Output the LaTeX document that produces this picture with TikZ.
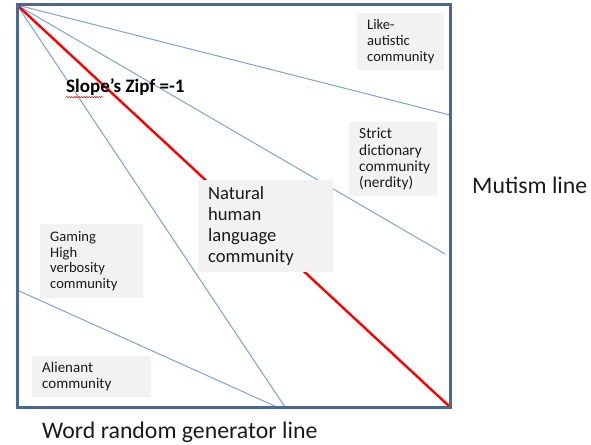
\documentclass[tikz,border=0pt]{standalone}
\usepackage{fontspec}
\setmainfont{Carlito}
\usetikzlibrary{decorations.pathmorphing}
\definecolor{framec}{HTML}{4A6890}
\definecolor{linec}{HTML}{7FA3CF}
\definecolor{boxc}{HTML}{F2F2F2}
\definecolor{txtc}{HTML}{1A1A1A}
\tikzset{
  frameline/.style={draw=framec, line width=3pt},
  thinline/.style={draw=linec, line width=1pt},
  zipfline/.style={draw=red, line width=2.4pt},
  smallbox/.style={fill=boxc, inner xsep=10pt, inner ysep=0pt, align=left, anchor=north west, text=txtc,
     font=\fontsize{14.6}{15.8}\selectfont},
  bigbox/.style={fill=boxc, inner xsep=10pt, inner ysep=0pt, align=left, anchor=north west, text=txtc,
     font=\fontsize{18.6}{21}\selectfont},
  biglabel/.style={text=txtc, font=\fontsize{23.8}{27}\selectfont, inner sep=0pt},
}
\begin{document}
\begin{tikzpicture}[x=1pt,y=-1pt]
\useasboundingbox (0,0) rectangle (591,444);
% corners and end points
\coordinate (tl) at (17,5);
\coordinate (tr) at (450,5);
\coordinate (br) at (450,407);
\coordinate (bl) at (17,407);
\coordinate (eUpper) at (450,115);
\coordinate (eMid) at (445,254);
\coordinate (eSteep) at (285,407);
\coordinate (sLeft) at (17,290);
\coordinate (eLeft) at (277,407);
% lines
\draw[thinline] (tl) -- (eUpper);
\draw[thinline] (tl) -- (eMid);
\draw[thinline] (tl) -- (eSteep);
\draw[thinline] (sLeft) -- (eLeft);
\draw[zipfline] (tl) -- (br);
% boxes
\node[smallbox, text width=67pt, minimum height=57pt] (like) at (357,13) {Like-\\autistic\\community};
\node[smallbox, text width=68pt, minimum height=74pt, font=\fontsize{15.4}{16.2}\selectfont] (strict) at (349,122) {Strict\\dictionary\\community\\(nerdity)};
\node[bigbox, text width=115pt, minimum height=92pt] (natural) at (198,180) {Natural\\human\\language\\community};
\node[smallbox, text width=83pt, minimum height=74pt] (gaming) at (40,224) {Gaming\\High\\verbosity\\community};
\node[smallbox, text width=99pt, minimum height=41pt, font=\fontsize{15}{15.8}\selectfont] (alien) at (32,356) {Alienant\\community};
% frame
\draw[frameline] (tl) -- (tr) -- (br) -- (bl) -- cycle;
% labels
\node[text=black, font=\fontsize{19}{21}\bfseries\selectfont, inner sep=0pt, anchor=west] (slope) at (66,87) {Slope’s Zipf =-1};
\draw[red, line width=0.5pt, decorate, decoration={snake, amplitude=0.7pt, segment length=2.5pt}]
  ([yshift=-1.5pt]slope.south west) -- ([xshift=37pt,yshift=-1.5pt]slope.south west);
\node[biglabel, anchor=west] (mutism) at (472,185) {Mutism line};
\node[biglabel, anchor=west] (word) at (42,432) {Word random generator line};
\end{tikzpicture}
\end{document}
